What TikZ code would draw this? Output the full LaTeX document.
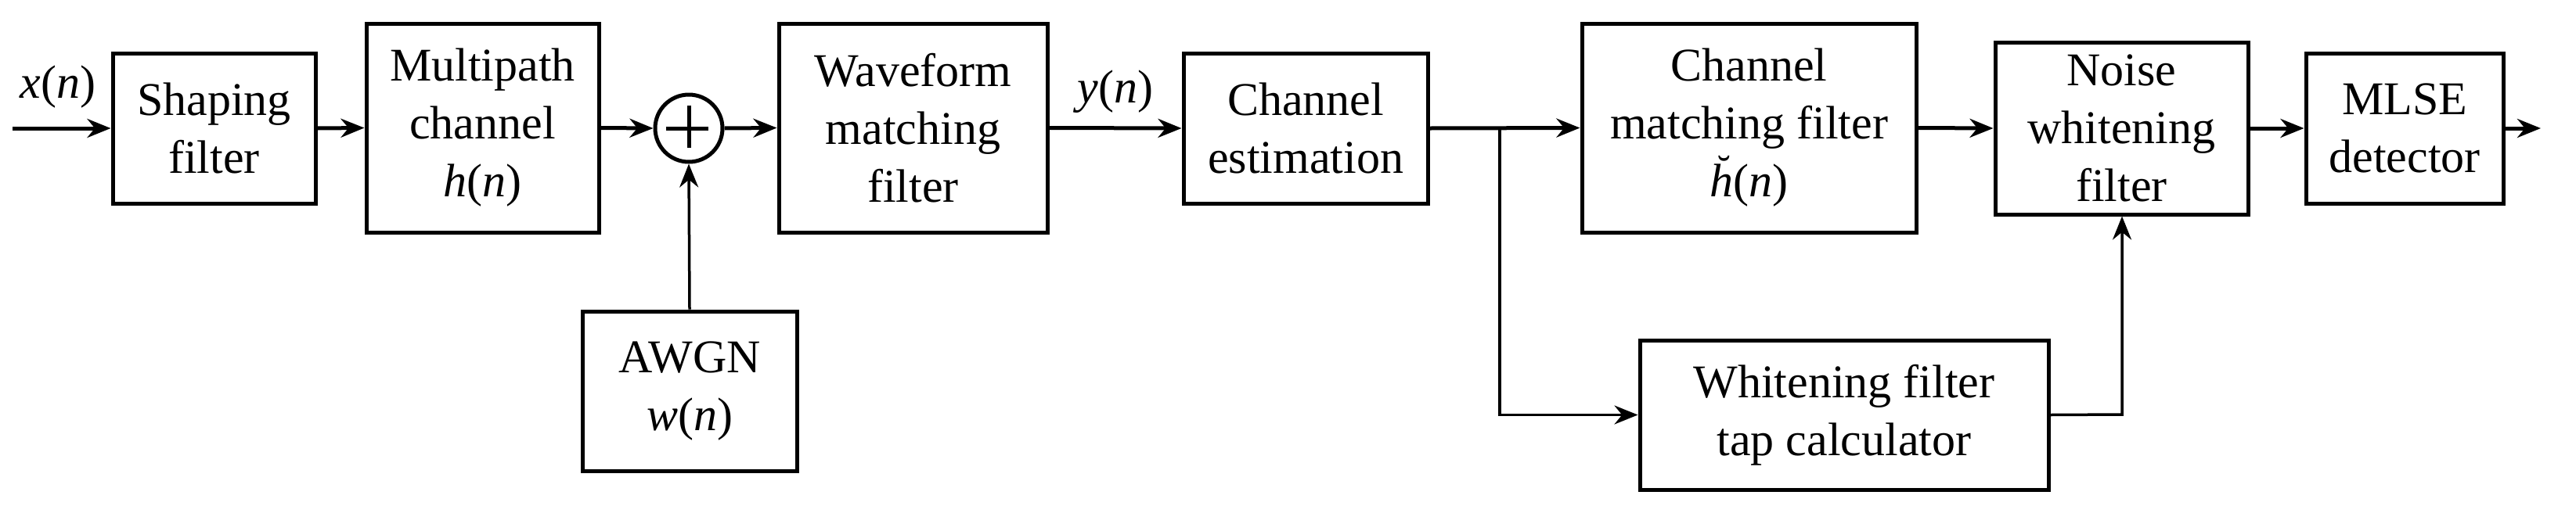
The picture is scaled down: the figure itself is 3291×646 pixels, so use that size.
\documentclass[tikz,border=0pt]{standalone}
\usepackage{fontspec}
\setmainfont{Liberation Serif}
\usetikzlibrary{arrows.meta}
\begin{document}
\begin{tikzpicture}[x=1pt,y=-1pt,
  box/.style={draw,line width=5pt,inner sep=0pt,align=center,font=\fontsize{60}{74}\selectfont},
  tip/.style={-{Stealth[length=30pt,width=24pt]}},
  ar/.style={line width=5pt,tip},
  thin/.style={line width=3.5pt,tip},
  lab/.style={font=\fontsize{60}{74}\selectfont}]
\useasboundingbox (0,0) rectangle (3291,646);
\newcommand{\bx}[6]{\node[box,minimum width=#4-#2,minimum height=#5-#3] (#1) at ({(#2+#4)/2},{(#3+#5)/2}) {#6};}
\bx{sh}{144}{68}{403}{260}{Shaping\\filter}
\bx{mp}{468}{30}{765}{297}{Multipath\\channel\\\textit{h}(\textit{n})}
\node[draw,circle,line width=5pt,minimum size=86pt,inner sep=0pt] (sum) at (880,164) {};
\draw[line width=5pt] (sum.north)++(0,16)--++(0,54) (sum.west)++(16,0)--++(54,0);
\bx{aw}{744}{398}{1018}{602}{AWGN\\\textit{w}(\textit{n})}
\bx{wf}{995}{30}{1338}{297}{Waveform\\matching\\filter}
\bx{ce}{1512}{68}{1824}{260}{Channel\\estimation}
\bx{cm}{2021}{30}{2448}{297}{Channel\\matching filter\\\makebox[0pt][l]{\hspace{0.16em}\raisebox{0.3em}{\fontsize{50}{50}\selectfont ˘}}\textit{h}(\textit{n})}
\bx{nw}{2549}{54}{2872}{274}{Noise\\whitening\\filter}
\bx{ml}{2946}{68}{3198}{260}{MLSE\\detector}
\bx{tc}{2095}{435}{2617}{626}{Whitening filter\\tap calculator}
\coordinate (in) at (16,164);
\coordinate (out) at (3246,164);
\coordinate (br) at (1916,164);
\coordinate (up) at (2711,530);
\draw[ar] (in) -- (sh.west);
\node[lab] (xl) at (74,111) {\textit{x}(\textit{n})};
\draw[ar] (sh.east) -- (mp.west);
\draw[ar] (mp.east) -- (sum.west);
\draw[ar] (sum.east) -- (wf.west);
\draw[thin] (aw.north) -- (sum.south);
\draw[ar] (wf.east) -- (ce.west);
\node[lab] (yl) at (1425,117) {\textit{y}(\textit{n})};
\draw[ar] (ce.east) -- (cm.west);
\draw[thin] (br) |- (tc.west);
\draw[ar] (cm.east) -- (nw.west);
\draw[thin] (tc.east) -- (up) -- (up |- nw.south);
\draw[ar] (nw.east) -- (ml.west);
\draw[ar] (ml.east) -- (out);
\end{tikzpicture}
\end{document}
